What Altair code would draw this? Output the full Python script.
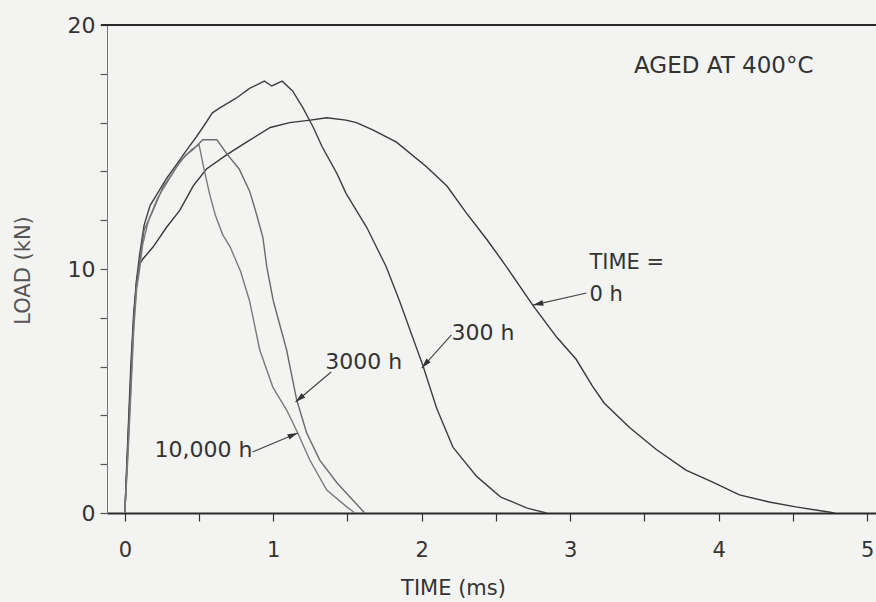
import math
import altair as alt
import pandas as pd

# Load-time traces of aged specimens (time in ms, load in kN)
t_0h = [0.0, 0.02, 0.04, 0.06, 0.08, 0.10, 0.12, 0.19, 0.28, 0.37, 0.46, 0.55, 0.69, 0.82,
        0.98, 1.11, 1.25, 1.36, 1.49, 1.56, 1.67, 1.83, 2.03, 2.17, 2.30, 2.44, 2.57, 2.75,
        2.91, 3.04, 3.15, 3.23, 3.40, 3.58, 3.78, 3.96, 4.14, 4.34, 4.52, 4.73, 4.78]
load_0h = [0.0, 2.8, 5.5, 8.0, 9.6, 10.2, 10.4, 10.9, 11.7, 12.4, 13.4, 14.1, 14.7, 15.2,
           15.8, 16.0, 16.1, 16.2, 16.1, 16.0, 15.7, 15.2, 14.2, 13.4, 12.3, 11.2, 10.1, 8.5,
           7.2, 6.3, 5.2, 4.5, 3.5, 2.6, 1.76, 1.27, 0.74, 0.45, 0.25, 0.05, 0.0]

t_300h = [0.0, 0.02, 0.04, 0.06, 0.08, 0.10, 0.13, 0.17, 0.22, 0.28, 0.35, 0.42, 0.48, 0.525,
          0.59, 0.64, 0.75, 0.84, 0.94, 0.99, 1.06, 1.13, 1.20, 1.27, 1.33, 1.43, 1.49, 1.63,
          1.76, 1.85, 2.01, 2.10, 2.21, 2.37, 2.53, 2.71, 2.84]
load_300h = [0.0, 3.0, 6.0, 8.2, 9.6, 10.6, 11.8, 12.6, 13.1, 13.7, 14.3, 14.9, 15.4, 15.8,
             16.4, 16.6, 17.0, 17.4, 17.7, 17.5, 17.7, 17.3, 16.6, 15.8, 15.0, 13.9, 13.1, 11.7,
             10.1, 8.7, 6.0, 4.3, 2.7, 1.5, 0.66, 0.2, 0.0]

t_3000h = [0.0, 0.02, 0.04, 0.06, 0.08, 0.10, 0.13, 0.19, 0.26, 0.32, 0.37, 0.42, 0.46, 0.525,
           0.62, 0.69, 0.77, 0.84, 0.88, 0.93, 0.956, 1.0, 1.09, 1.158, 1.225, 1.313, 1.43,
           1.535, 1.616]
load_3000h = [0.0, 2.5, 5.2, 7.8, 9.4, 10.3, 11.6, 12.4, 13.4, 13.9, 14.4, 14.7, 14.9, 15.3,
              15.3, 14.7, 14.1, 13.2, 12.4, 11.3, 10.1, 8.7, 6.68, 4.63, 3.28, 2.17, 1.23,
              0.53, 0.0]

t_10000h = [0.0, 0.02, 0.04, 0.06, 0.08, 0.10, 0.12, 0.16, 0.22, 0.28, 0.34, 0.40, 0.45, 0.50,
            0.53, 0.57, 0.61, 0.66, 0.71, 0.78, 0.84, 0.909, 0.997, 1.09, 1.165, 1.246, 1.36,
            1.495, 1.55]
load_10000h = [0.0, 2.2, 4.8, 7.5, 9.2, 10.0, 11.0, 12.0, 12.9, 13.5, 14.1, 14.6, 14.9, 15.1,
               14.2, 13.1, 12.2, 11.4, 10.9, 9.9, 8.7, 6.68, 5.16, 4.22, 3.28, 2.17, 0.94,
               0.25, 0.0]

series_names = ["0 h", "300 h", "3000 h", "10,000 h"]
series_t = [t_0h, t_300h, t_3000h, t_10000h]
series_load = [load_0h, load_300h, load_3000h, load_10000h]
series_color = ["#383838", "#404040", "#6a6a6a", "#7a7a7a"]

# Curve labels and their leader arrows (tail -> tip), in data units
label_text = ["AGED AT 400°C", "TIME =", "0 h", "300 h", "3000 h", "10,000 h"]
label_t = [3.43, 3.13, 3.13, 2.20, 1.35, 0.20]
label_load = [18.3, 10.25, 8.95, 7.38, 6.19, 2.58]
label_size = [23, 21, 21, 22, 22, 22]

arrow_tail_t = [3.11, 2.20, 1.39, 0.86]
arrow_tail_load = [9.02, 7.30, 5.78, 2.50]
arrow_tip_t = [2.75, 2.00, 1.15, 1.165]
arrow_tip_load = [8.52, 5.94, 4.55, 3.28]

X_DOMAIN = [-0.12, 5.06]
Y_DOMAIN = [0, 20]
W, H = 769, 488
INK = "#333333"
FONT = "DejaVu Sans"

rows = []
for name, ts, ls in zip(series_names, series_t, series_load):
    for i, (t, l) in enumerate(zip(ts, ls)):
        rows.append({"series": name, "t": t, "load": l, "i": i})
curves = pd.DataFrame(rows)

xs = alt.Scale(domain=X_DOMAIN, nice=False, zero=False)
ys = alt.Scale(domain=Y_DOMAIN, nice=False)

x_axis = alt.Axis(
    values=[v / 2 for v in range(0, 11)],
    format=".0f",
    labelExpr="datum.value % 1 == 0 ? datum.label : ''",
    title="TIME (ms)", titleX=346, titleY=75, titleAnchor="middle", titleBaseline="middle",
    titleFontSize=21, titleFontWeight="normal", titleColor=INK, titleFont=FONT,
    labelFontSize=21, labelColor=INK, labelFont=FONT, labelPadding=18,
    tickSize=8, tickColor=INK, tickWidth=1.2,
    domainColor="#2a2a2a", domainWidth=2, grid=False, labelFlush=False,
)
y_axis = alt.Axis(
    values=list(range(0, 21, 2)),
    labelExpr="datum.value % 10 == 0 ? datum.label : ''",
    title="LOAD (kN)", titleX=-84, titleY=245, titleAngle=270, titleAnchor="middle",
    titleFontSize=21, titleFontWeight="normal", titleColor="#555555", titleFont=FONT,
    titleBaseline="middle",
    labelFontSize=22, labelColor=INK, labelFont=FONT, labelPadding=5,
    tickSize=7, tickColor="#555555", tickWidth=1.2,
    domainColor="#777777", domainWidth=1, grid=False, labelFlush=False,
)

lines = alt.Chart(curves).mark_line(strokeWidth=1.4, clip=True).encode(
    x=alt.X("t:Q", scale=xs, axis=x_axis),
    y=alt.Y("load:Q", scale=ys, axis=y_axis),
    color=alt.Color("series:N", scale=alt.Scale(domain=series_names, range=series_color),
                    legend=None),
    order="i:Q",
)

top_line = alt.Chart(pd.DataFrame({"load": [20]})).mark_rule(
    color="#2a2a2a", strokeWidth=2
).encode(y=alt.Y("load:Q", scale=ys), x=alt.value(-6), x2=alt.value(W + 10))

labels = alt.Chart(pd.DataFrame({
    "text": label_text, "t": label_t, "load": label_load, "size": label_size,
})).mark_text(
    align="left", baseline="middle", font=FONT, color=INK
).encode(
    x=alt.X("t:Q", scale=xs), y=alt.Y("load:Q", scale=ys), text="text:N",
    size=alt.Size("size:Q", scale=None, legend=None),
)

px_per_t = W / (X_DOMAIN[1] - X_DOMAIN[0])
px_per_l = H / (Y_DOMAIN[1] - Y_DOMAIN[0])
arrows = pd.DataFrame({
    "t": arrow_tail_t, "load": arrow_tail_load,
    "t2": arrow_tip_t, "load2": arrow_tip_load,
})
arrows["angle"] = [
    math.degrees(math.atan2((b - a) * px_per_t, (d - c) * px_per_l)) % 360
    for a, b, c, d in zip(arrow_tail_t, arrow_tip_t, arrow_tail_load, arrow_tip_load)
]

leaders = alt.Chart(arrows).mark_rule(color="#444444", strokeWidth=1.1).encode(
    x=alt.X("t:Q", scale=xs), y=alt.Y("load:Q", scale=ys),
    x2="t2:Q", y2="load2:Q",
)
heads = alt.Chart(arrows).mark_point(
    shape="M0,0 L-0.28,1 L0.28,1 Z", filled=True, color="#333333", size=420, opacity=1
).encode(
    x=alt.X("t2:Q", scale=xs), y=alt.Y("load2:Q", scale=ys),
    angle=alt.Angle("angle:Q", scale=None),
)

chart = alt.layer(top_line, lines, leaders, heads, labels).properties(
    width=W, height=H,
    background="#f3f3f2",
    padding={"left": 107, "top": 25, "right": 0, "bottom": 89},
    autosize=alt.AutoSizeParams(type="none"),
).configure_view(stroke=None)

chart.save("out.html", embed_options={"renderer": "svg", "actions": False})
